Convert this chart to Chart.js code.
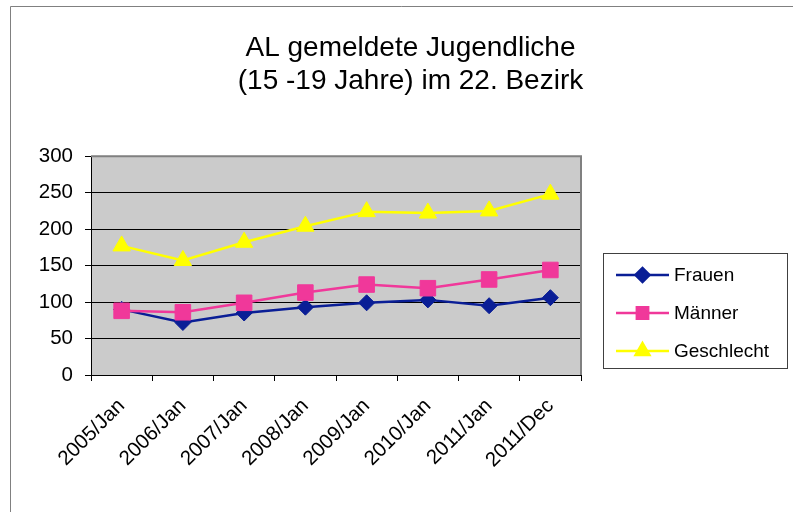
<!DOCTYPE html>
<html><head><meta charset="utf-8">
<script src="https://cdn.jsdelivr.net/npm/chart.js@4/dist/chart.umd.min.js"></script>
<style>html,body{margin:0;padding:0;background:#fff}#wrap{width:793px;height:512px}</style>
</head><body><div id="wrap"><canvas id="c" width="793" height="512"></canvas></div>
<script>
const titleLines = ['AL gemeldete Jugendliche', '(15 -19 Jahre) im 22. Bezirk'];
const categories = ['2005/Jan','2006/Jan','2007/Jan','2008/Jan','2009/Jan','2010/Jan','2011/Jan','2011/Dec'];
const seriesNames = ['Frauen','Männer','Geschlecht'];
const frauen = [90, 72, 85, 93, 99, 103, 95, 106];
const maenner = [88, 86, 99, 113, 124, 119, 131, 144];
const geschlecht = [177, 157, 182, 204, 224, 222, 225, 248];
const yMin = 0, yMax = 300, yStep = 50;

const FONT = "'Liberation Sans', Arial, sans-serif";
const colors = ['#0a1e96', '#f0389a', '#ffff00'];
const styles = [
  {pointStyle:'rectRot', radius:8},
  {pointStyle:'rect', radius:11},
  {pointStyle:'triangle', radius:10}
];

const framePlugin = {
  id: 'frame',
  beforeDraw(chart) {
    const ctx = chart.ctx, a = chart.chartArea;
    ctx.save();
    ctx.fillStyle = '#fff';
    ctx.fillRect(0, 0, chart.width, chart.height);
    ctx.strokeStyle = '#808080';
    ctx.lineWidth = 1;
    ctx.beginPath();
    ctx.moveTo(10.5, chart.height);
    ctx.lineTo(10.5, 6.5);
    ctx.lineTo(chart.width, 6.5);
    ctx.stroke();
    ctx.fillStyle = '#cbcbcb';
    ctx.fillRect(a.left, a.top, a.right - a.left, a.bottom - a.top);
    ctx.restore();
  },
  beforeDatasetsDraw(chart) {
    const ctx = chart.ctx, a = chart.chartArea;
    ctx.save();
    ctx.strokeStyle = '#808080';
    ctx.lineWidth = 2;
    ctx.beginPath();
    ctx.moveTo(a.left, a.top);
    ctx.lineTo(a.right, a.top);
    ctx.lineTo(a.right, a.bottom);
    ctx.stroke();
    ctx.restore();
  },
  afterDraw(chart) {
    const ctx = chart.ctx;
    const bx = 603.5, by = 253.5, bw = 184, bh = 115;
    ctx.save();
    ctx.fillStyle = '#fff';
    ctx.fillRect(bx, by, bw, bh);
    ctx.strokeStyle = '#404040';
    ctx.lineWidth = 1;
    ctx.strokeRect(bx, by, bw, bh);
    chart.data.datasets.forEach((ds, i) => {
      const y = 275 + i * 38;
      ctx.strokeStyle = ds.borderColor;
      ctx.lineWidth = 2.5;
      ctx.beginPath();
      ctx.moveTo(616, y);
      ctx.lineTo(669, y);
      ctx.stroke();
      ctx.fillStyle = ds.backgroundColor;
      ctx.strokeStyle = ds.borderColor;
      const r = ds.pointStyle === 'rect' ? 8 : (ds.pointStyle === 'triangle' ? 8 : 7);
      Chart.helpers.drawPoint(ctx, {pointStyle: ds.pointStyle, radius: r, rotation: 0, borderWidth: 1}, 642.5, y);
      ctx.fillStyle = '#000';
      ctx.font = '19px ' + FONT;
      ctx.textBaseline = 'middle';
      ctx.textAlign = 'left';
      ctx.fillText(ds.label, 674, y + 1);
    });
    ctx.restore();
  }
};

const seriesData = [frauen, maenner, geschlecht];
const datasets = seriesNames.map((name, i) => ({
  label: name,
  data: seriesData[i],
  borderColor: colors[i],
  backgroundColor: colors[i],
  pointBackgroundColor: colors[i],
  pointBorderColor: colors[i],
  borderWidth: 2.5,
  pointStyle: styles[i].pointStyle,
  pointRadius: styles[i].radius,
  pointBorderWidth: 1,
  tension: 0,
  order: 3 - i
}));

new Chart(document.getElementById('c'), {
  type: 'line',
  data: { labels: categories, datasets },
  plugins: [framePlugin],
  options: {
    responsive: false,
    animation: false,
    devicePixelRatio: 1,
    layout: { padding: { left: 28, right: 0, top: 0, bottom: 0 } },
    plugins: {
      legend: { display: false },
      tooltip: { enabled: false },
      title: {
        display: true,
        text: titleLines,
        color: '#000',
        font: { family: FONT, size: 28, weight: 'normal', lineHeight: 1.2 },
        padding: { top: 31, bottom: 58 }
      }
    },
    scales: {
      x: {
        offset: true,
        grid: { display: true, offset: true, drawOnChartArea: false, drawTicks: true, tickLength: 6, color: '#000', tickColor: '#000' },
        border: { display: true, color: '#000', width: 1 },
        ticks: { color: '#000', font: { family: FONT, size: 20.5 }, minRotation: 45, maxRotation: 45, padding: 13, autoSkip: false },
        afterFit(s) { s.height = 137; }
      },
      y: {
        min: yMin, max: yMax,
        grid: { color: (c) => c.tick && c.tick.value === yMax ? '#808080' : '#000', tickColor: '#000', tickLength: 6, lineWidth: 1 },
        border: { display: true, color: '#000', width: 1 },
        ticks: { stepSize: yStep, color: '#000', font: { family: FONT, size: 20.5 }, padding: 12 },
        afterFit(s) { s.width = 63; }
      },
      yr: {
        position: 'right',
        display: true,
        grid: { display: false },
        border: { display: false },
        ticks: { display: false },
        afterFit(s) { s.width = 212; }
      }
    }
  }
});
</script></body></html>
